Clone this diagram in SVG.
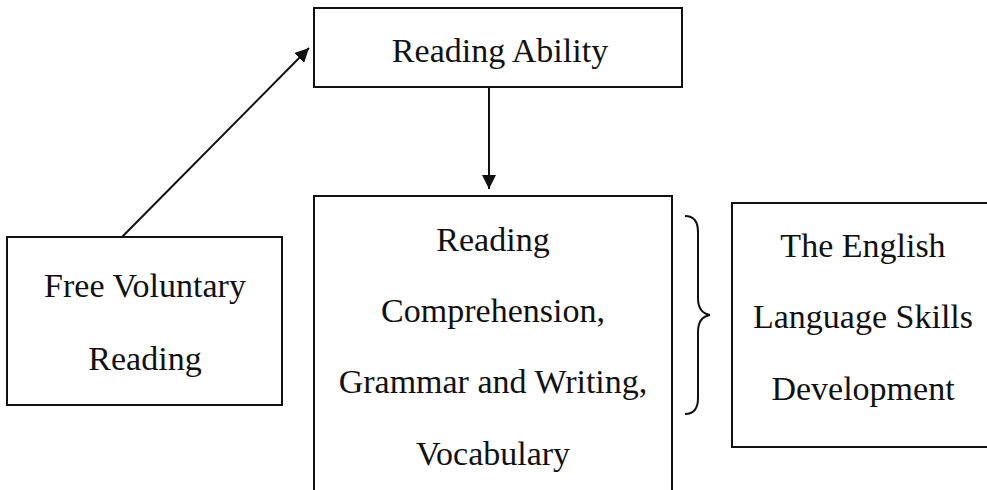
<svg xmlns="http://www.w3.org/2000/svg" width="987" height="490" viewBox="0 0 987 490">
<style>
.box{fill:#fff;stroke:#111;stroke-width:2}
.t{font-family:"Liberation Serif","Times New Roman",serif;font-size:34px;fill:#111;text-anchor:middle}
.c{fill:none;stroke:#111;stroke-width:2}
</style>
<defs>
<marker id="ah" viewBox="0 0 10 10" refX="10" refY="5" markerWidth="7" markerHeight="7" orient="auto" markerUnits="strokeWidth">
<path d="M0,0 L10,5 L0,10 Z" fill="#111"/>
</marker>
</defs>
<rect width="987" height="490" fill="#fff"/>
<g id="reading-ability">
<rect class="box" x="314" y="8" width="368" height="79"/>
<text class="t" x="500" y="62">Reading Ability</text>
</g>
<g id="free-voluntary-reading">
<rect class="box" x="7" y="237" width="275" height="168"/>
<text class="t" x="145" y="297">Free Voluntary</text>
<text class="t" x="145" y="370">Reading</text>
</g>
<g id="skills">
<rect class="box" x="314" y="196" width="358" height="310"/>
<text class="t" x="493" y="251">Reading</text>
<text class="t" x="493" y="322">Comprehension,</text>
<text class="t" x="493" y="393">Grammar and Writing,</text>
<text class="t" x="493" y="465">Vocabulary</text>
</g>
<g id="development">
<rect class="box" x="732" y="203" width="270" height="244"/>
<text class="t" x="863" y="257">The English</text>
<text class="t" x="863" y="328">Language Skills</text>
<text class="t" x="863" y="400">Development</text>
</g>
<g id="connectors">
<line class="c" x1="122" y1="237" x2="309" y2="48" marker-end="url(#ah)"/>
<line class="c" x1="489" y1="87" x2="489" y2="189" marker-end="url(#ah)"/>
<path class="c" d="M685,216 Q698,216 698,232 L698,298 Q698,313 710,315 Q698,317 698,332 L698,398 Q698,414 685,414"/>
</g>
</svg>
